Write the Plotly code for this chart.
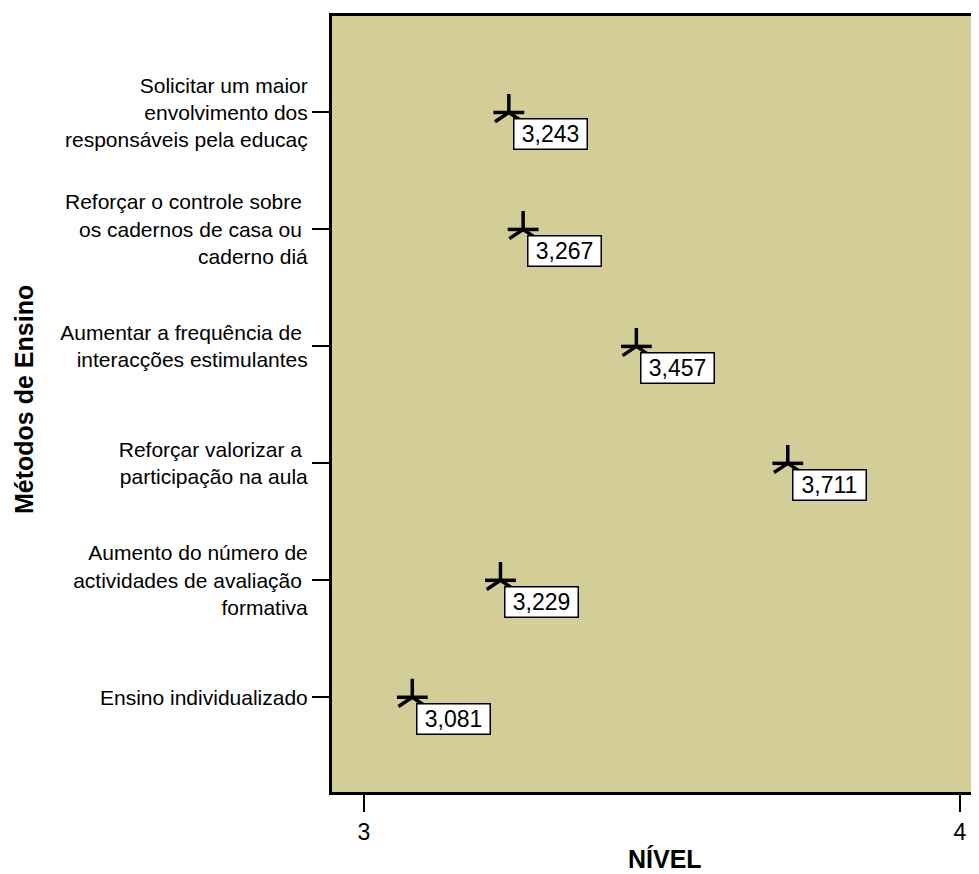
import plotly.graph_objects as go

# Data (bottom -> top)
categories = [
    "Ensino individualizado",
    "Aumento do número de<br>actividades de avaliação\u00a0<br>formativa",
    "Reforçar valorizar a\u00a0<br>participação na aula",
    "Aumentar a frequência de\u00a0<br>interacções estimulantes",
    "Reforçar o controle sobre\u00a0<br>os cadernos de casa ou\u00a0<br>caderno diá",
    "Solicitar um maior<br>envolvimento dos<br>responsáveis pela educaç",
]
values = [3.081, 3.229, 3.711, 3.457, 3.267, 3.243]
x_tickvals = [3, 4]
x_ticktext = ["3", "4"]

labels = [f"{v:.3f}".replace(".", ",") for v in values]

FONT = "Liberation Sans, Arial, sans-serif"
BG = "#D3CE98"

fig = go.Figure()
# five-armed asterisk made of two marker shapes
fig.add_trace(go.Scatter(
    x=values, y=categories, mode="markers",
    marker=dict(symbol="y-up-open", size=23, color="black",
                line=dict(color="black", width=3.5)),
    hoverinfo="x+y", showlegend=False,
))
fig.add_trace(go.Scatter(
    x=values, y=categories, mode="markers",
    marker=dict(symbol="line-ew-open", size=22, color="black",
                line=dict(color="black", width=3.5)),
    hoverinfo="skip", showlegend=False,
))

annotations = []
for v, c, t in zip(values, categories, labels):
    annotations.append(dict(
        x=v, y=c, xref="x", yref="y", text=t, showarrow=False,
        xanchor="left", yanchor="top", xshift=4, yshift=-6,
        bgcolor="white", bordercolor="black", borderwidth=1.5, borderpad=1,
        width=70, height=27, align="center",
        font=dict(family=FONT, size=23, color="black"),
    ))

# axis titles
annotations.append(dict(
    text="<b>NÍVEL</b>", xref="paper", yref="paper", x=0.5, y=0,
    xanchor="center", yanchor="middle", xshift=9, yshift=-67, showarrow=False,
    font=dict(family=FONT, size=25, color="black"),
))
annotations.append(dict(
    text="<b>Métodos de Ensino</b>", xref="paper", yref="paper", x=0, y=0.5,
    xanchor="center", yanchor="middle", xshift=-308, yshift=4, textangle=-90,
    showarrow=False, font=dict(family=FONT, size=25, color="black"),
))

fig.update_layout(
    width=971, height=866,
    margin=dict(l=324, r=0, t=8, b=82),
    paper_bgcolor="white", plot_bgcolor=BG,
    font=dict(family=FONT, color="black"),
    annotations=annotations,
    xaxis=dict(
        range=[2.9463, 4.0319], tickvals=x_tickvals, ticktext=x_ticktext,
        ticks="outside", ticklen=17, tickwidth=2, tickcolor="black",
        showline=True, linewidth=3, linecolor="black", mirror=True,
        showgrid=False, zeroline=False,
        tickfont=dict(family=FONT, size=23, color="black"),
    ),
    yaxis=dict(
        type="category", categoryorder="array", categoryarray=categories,
        range=[-0.81, 5.825],
        ticks="outside", ticklen=17, tickwidth=2, tickcolor="black",
        showline=True, linewidth=3, linecolor="black", mirror=False,
        showgrid=False, zeroline=False,
        tickfont=dict(family=FONT, size=21, color="black"),
    ),
)

fig.write_html("out.html")
